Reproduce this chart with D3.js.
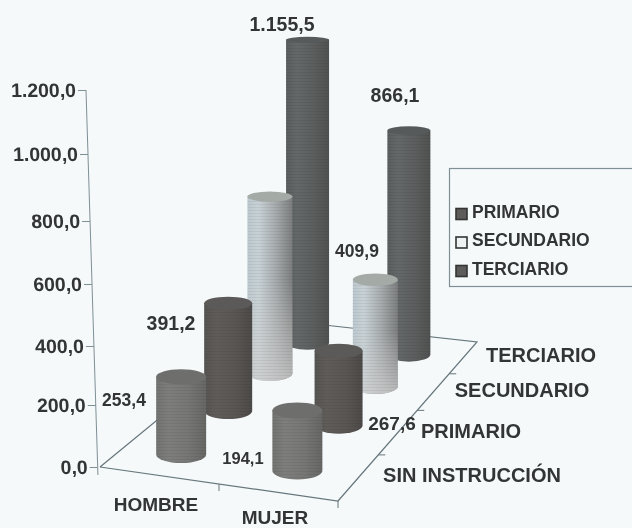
<!DOCTYPE html>
<html>
<head>
<meta charset="utf-8">
<script src="https://cdn.jsdelivr.net/npm/d3@7"></script>
<style>
    html, body { margin: 0; padding: 0; background: #f5f9fa; }
    svg { display: block; filter: blur(0.45px); }
    text { font-family: "Liberation Sans", sans-serif; font-weight: bold; fill: #333535; }
</style>
</head>
<body>
<script>
// les données
const sexes = ["HOMBRE", "MUJER"];
const niveaux = ["SIN INSTRUCCIÓN", "PRIMARIO", "SECUNDARIO", "TERCIARIO"];
const legende = ["PRIMARIO", "SECUNDARIO", "TERCIARIO"];
const valeursHombre = [253.4, 391.2, 672, 1155.5];
const valeursMujer = [194.1, 267.6, 409.9, 866.1];
const ticksY = [0, 200, 400, 600, 800, 1000, 1200];

const width = 632, height = 528;

const svg = d3.select("body").append("svg")
    .attr("width", width)
    .attr("height", height);

const defs = svg.append("defs");

// degradés horizontaux des cylindres, un par niveau
const teintes = [
    ["#727472", "#7e7f7c", "#767774", "#666765"],
    ["#565452", "#605c5a", "#5a5654", "#4c4a48"],
    ["#bcc8ce", "#c8d2d6", "#a4a8aa", "#7c7e7e"],
    ["#5a5e5e", "#646868", "#5c5e5e", "#505252"]
];
const dessus = ["#6e6f6c", "#5c5a58", "#a4aaa6", "#565a5a"];
teintes.forEach((t, i) => {
    const g = defs.append("linearGradient").attr("id", `cyl${i}`);
    [0, 0.25, 0.65, 1].forEach((o, k) => {
        g.append("stop").attr("offset", o).attr("stop-color", t[k]);
    });
});

// le bas des cylindres clairs est plus pale
const bas = defs.append("linearGradient").attr("id", "basClair")
    .attr("x1", 0).attr("y1", 0).attr("x2", 0).attr("y2", 1);
bas.append("stop").attr("offset", 0.45).attr("stop-color", "#cfcfcf").attr("stop-opacity", 0);
bas.append("stop").attr("offset", 1).attr("stop-color", "#cfcfcf").attr("stop-opacity", 0.75);

// lignes horizontales du scan
const trame = defs.append("pattern").attr("id", "trame")
    .attr("patternUnits", "userSpaceOnUse").attr("width", 4).attr("height", 3);
trame.append("rect").attr("width", 4).attr("height", 1).attr("fill", "#000").attr("fill-opacity", 0.06);

const fmt = d3.formatLocale({ decimal: ",", thousands: ".", grouping: [3], currency: ["", ""] }).format(",.1f");

// le sol en perspective
const coinO = [100, 467], coinR = [338, 501], coinBR = [477, 342], coinBL = [279, 320];
function sol(u, w) {
    const a = [coinO[0] + u * (coinR[0] - coinO[0]), coinO[1] + u * (coinR[1] - coinO[1])];
    const b = [coinBL[0] + u * (coinBR[0] - coinBL[0]), coinBL[1] + u * (coinBR[1] - coinBL[1])];
    return [a[0] + w * (b[0] - a[0]), a[1] + w * (b[1] - a[1])];
}

const xSexe = d3.scalePoint().domain(sexes).range([0.25, 0.75]);
const prof = d3.scaleLinear().domain([0, 1, 2, 3]).range([0.14, 0.43, 0.68, 0.885]);
const decal = d3.scaleLinear().domain([0, 1, 2, 3]).range([-2, -4, -4.5, -1.5]);
const reduc = d3.scaleLinear().domain([0, 1, 2, 3]).range([1, 0.91, 0.86, 0.835]);
const rayon = d3.scaleLinear().domain([0, 1, 2, 3]).range([25, 24, 22.5, 21.5]);
// l'axe du scan n'est pas tout a fait regulier
const y = d3.scaleLinear().domain(ticksY).range([467, 405, 346, 284, 221, 154, 90]);
const ry = d3.scaleLinear().domain([40, 410]).range([3, 8]);

// axe vertical, un peu penché comme sur l'image
const axeY = svg.append("g")
    .attr("transform", "matrix(1,0,0.031,1,83.2,0)")
    .call(d3.axisLeft(y).tickValues(ticksY).tickFormat(fmt).tickSize(8).tickPadding(2));
axeY.select(".domain").attr("stroke", "#7f8f96").attr("d", "M0,90V475");
axeY.selectAll(".tick line").attr("stroke", "#7f8f96");
axeY.selectAll("text").attr("font-size", 19.5).attr("font-family", null).attr("fill", null);

// lignes du sol
const ligne = d3.line();
const couleurSol = "#66767c";
svg.append("path").attr("d", ligne([coinO, coinR, coinBR, coinBL, coinO]))
    .attr("fill", "none").attr("stroke", couleurSol).attr("stroke-width", 1.2);

const ticksSol = [0.29, 0.57, 0.8];
ticksSol.forEach(w => {
    const p = sol(1, w);
    svg.append("line").attr("x1", p[0]).attr("y1", p[1]).attr("x2", p[0] + 7).attr("y2", p[1])
        .attr("stroke", couleurSol);
});
[[0.5, 0], [1, 0]].forEach(d => {
    const p = sol(d[0], d[1]);
    svg.append("line").attr("x1", p[0]).attr("y1", p[1]).attr("x2", p[0]).attr("y2", p[1] + 7)
        .attr("stroke", couleurSol);
});

// les cylindres, du fond vers l'avant
const cylindres = [];
niveaux.forEach((n, j) => {
    cylindres.push({ sexe: "HOMBRE", j: j, v: valeursHombre[j] });
    cylindres.push({ sexe: "MUJER", j: j, v: valeursMujer[j] });
});
cylindres.sort((a, b) => b.j - a.j);

cylindres.forEach(d => {
    const base = sol(xSexe(d.sexe), prof(d.j));
    const cx = base[0] + decal(d.j);
    const r = rayon(d.j);
    const hauteur = (y(0) - y(d.v)) * reduc(d.j);
    const top = base[1] - hauteur;
    const ryBas = ry(base[1]), ryHaut = ry(top);
    const corps = `M${cx - r},${top}L${cx - r},${base[1]}A${r},${ryBas} 0 0 0 ${cx + r},${base[1]}L${cx + r},${top}Z`;
    const g = svg.append("g").attr("class", "cylindre");
    g.append("path").attr("d", corps).attr("fill", `url(#cyl${d.j})`);
    if (d.j == 2) {
        g.append("path").attr("d", corps).attr("fill", "url(#basClair)");
    }
    g.append("path").attr("d", corps).attr("fill", "url(#trame)");
    g.append("ellipse")
        .attr("cx", cx).attr("cy", top)
        .attr("rx", r).attr("ry", ryHaut)
        .attr("fill", dessus[d.j]);
});

// étiquettes de valeurs
const etiquettes = [
    { t: valeursHombre[3], x: 282, y: 31, s: 19.5 },
    { t: valeursMujer[3], x: 395, y: 102, s: 19.5 },
    { t: valeursMujer[2], x: 357, y: 257, s: 17.5 },
    { t: valeursHombre[1], x: 171, y: 330, s: 19.5 },
    { t: valeursHombre[0], x: 124, y: 406, s: 17.5 },
    { t: valeursMujer[0], x: 243, y: 464, s: 16.5 },
    { t: valeursMujer[1], x: 392, y: 430, s: 19 }
];
svg.selectAll(".valeur").data(etiquettes).enter().append("text")
    .attr("class", "valeur")
    .attr("x", d => d.x).attr("y", d => d.y)
    .attr("text-anchor", "middle")
    .attr("font-size", d => d.s)
    .text(d => fmt(d.t));

// noms des axes du sol
const nomsSexe = [{ x: 156, y: 511 }, { x: 275, y: 524 }];
svg.selectAll(".sexe").data(sexes).enter().append("text")
    .attr("x", (d, i) => nomsSexe[i].x).attr("y", (d, i) => nomsSexe[i].y)
    .attr("text-anchor", "middle").attr("font-size", 19)
    .text(d => d);

const nomsNiveau = [{ x: 472, y: 482 }, { x: 471, y: 438 }, { x: 522, y: 397 }, { x: 541, y: 362 }];
svg.selectAll(".niveau").data(niveaux).enter().append("text")
    .attr("x", (d, i) => nomsNiveau[i].x).attr("y", (d, i) => nomsNiveau[i].y)
    .attr("text-anchor", "middle").attr("font-size", 20)
    .text(d => d);

// la légende
svg.append("rect").attr("x", 449.5).attr("y", 168.5).attr("width", 200).attr("height", 118)
    .attr("fill", "none").attr("stroke", "#7f8f96").attr("stroke-width", 1.2);
const couleursLegende = ["#5e5c5a", "#eef2f2", "#5e5c5a"];
const yLegende = d3.scalePoint().domain(legende).range([214, 271]);
legende.forEach((n, i) => {
    svg.append("rect").attr("x", 456).attr("y", yLegende(n) - 5.5).attr("width", 11).attr("height", 11)
        .attr("fill", couleursLegende[i]).attr("stroke", "#333535").attr("stroke-width", 1.6);
    svg.append("text").attr("x", 472).attr("y", yLegende(n) + 3.5)
        .attr("font-size", 17.5).text(n);
});
</script>
</body>
</html>
